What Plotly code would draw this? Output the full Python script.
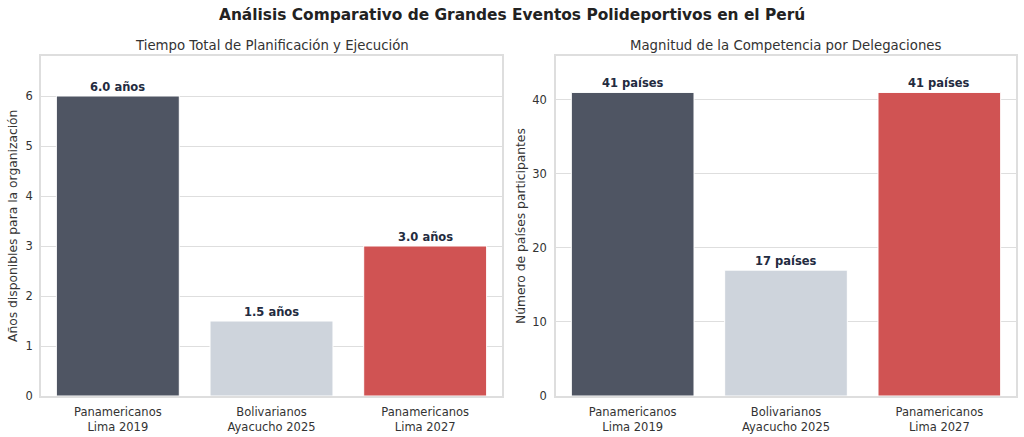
import plotly.graph_objects as go

categories = ["Panamericanos<br>Lima 2019", "Bolivarianos<br>Ayacucho 2025", "Panamericanos<br>Lima 2027"]
years = [6.0, 1.5, 3.0]
countries = [41, 17, 41]
year_labels = ["6.0 años", "1.5 años", "3.0 años"]
country_labels = ["41 países", "17 países", "41 países"]
colors = ["#4f5563", "#ced4dc", "#d05353"]

W, H = 1024, 437          # reference geometry used for fractions
FIG_H = 444               # rendered height (compensates capture scaling)
FONT = "DejaVu Sans"
TXT = "#333333"
GRID = "#dedede"

fig = go.Figure()

fig.add_trace(go.Bar(x=categories, y=years, marker=dict(color=colors, line=dict(color="white", width=1)),
                     width=0.8, xaxis="x", yaxis="y", showlegend=False, hoverinfo="skip"))
fig.add_trace(go.Bar(x=categories, y=countries, marker=dict(color=colors, line=dict(color="white", width=1)),
                     width=0.8, xaxis="x2", yaxis="y2", showlegend=False, hoverinfo="skip"))

annotations = []
for c, v, t in zip(categories, years, year_labels):
    annotations.append(dict(x=c, y=v, xref="x", yref="y", text=t, showarrow=False, yanchor="bottom", yshift=0,
                            font=dict(family=FONT, size=11.5, color="#232b40", weight="bold")))
for c, v, t in zip(categories, countries, country_labels):
    annotations.append(dict(x=c, y=v, xref="x2", yref="y2", text=t, showarrow=False, yanchor="bottom", yshift=0,
                            font=dict(family=FONT, size=11.5, color="#232b40", weight="bold")))

annotations += [
    dict(text="Análisis Comparativo de Grandes Eventos Polideportivos en el Perú", x=0.5, y=1 - 15 / H,
         xref="paper", yref="paper", showarrow=False, xanchor="center", yanchor="middle",
         font=dict(family=FONT, size=15.4, color="#222222", weight="bold")),
    dict(text="Tiempo Total de Planificación y Ejecución", x=(41 + 502) / 2 / W, y=1 - 45 / H,
         xref="paper", yref="paper", showarrow=False, xanchor="center", yanchor="middle",
         font=dict(family=FONT, size=13.3, color=TXT)),
    dict(text="Magnitud de la Competencia por Delegaciones", x=(556 + 1016) / 2 / W, y=1 - 45 / H,
         xref="paper", yref="paper", showarrow=False, xanchor="center", yanchor="middle",
         font=dict(family=FONT, size=13.3, color=TXT)),
    dict(text="Años disponibles para la organización", x=13 / W, y=1 - 226 / H, textangle=-90,
         xref="paper", yref="paper", showarrow=False, xanchor="center", yanchor="middle",
         font=dict(family=FONT, size=12.3, color=TXT)),
    dict(text="Número de países participantes", x=521 / W, y=1 - 226 / H, textangle=-90,
         xref="paper", yref="paper", showarrow=False, xanchor="center", yanchor="middle",
         font=dict(family=FONT, size=12.3, color=TXT)),
]

ydom = [41 / H, 1 - 56 / H]
axis_common = dict(showline=True, linecolor=GRID, linewidth=1.5, mirror=True,
                   tickfont=dict(family=FONT, size=11.5, color=TXT))

fig.update_layout(
    width=W, height=FIG_H,
    margin=dict(l=0, r=0, t=0, b=0),
    paper_bgcolor="white", plot_bgcolor="white",
    font=dict(family=FONT, color=TXT),
    xaxis=dict(domain=[41 / W, 502 / W], range=[-0.5, 2.5], anchor="y", showgrid=False,
               ticks="outside", ticklen=4, tickcolor="white", **axis_common),
    yaxis=dict(domain=ydom, range=[0, 6.8], anchor="x", dtick=1, showgrid=True, gridcolor=GRID, gridwidth=1.2,
               zeroline=False, ticks="outside", ticklen=4, tickcolor="white", **axis_common),
    xaxis2=dict(domain=[556 / W, 1016 / W], range=[-0.5, 2.5], anchor="y2", showgrid=False,
                ticks="outside", ticklen=4, tickcolor="white", **axis_common),
    yaxis2=dict(domain=ydom, range=[0, 45.92], anchor="x2", dtick=10, showgrid=True, gridcolor=GRID, gridwidth=1.2,
                zeroline=False, ticks="outside", ticklen=5, tickcolor="white", **axis_common),
    annotations=annotations,
)

post = (
    "var de=document.documentElement, b=document.body;"
    "de.style.margin='0'; b.style.margin='0';"
    "de.style.overflow='hidden'; b.style.overflow='hidden';"
)

fig.write_html("out.html", config={"displayModeBar": False}, post_script=post)
